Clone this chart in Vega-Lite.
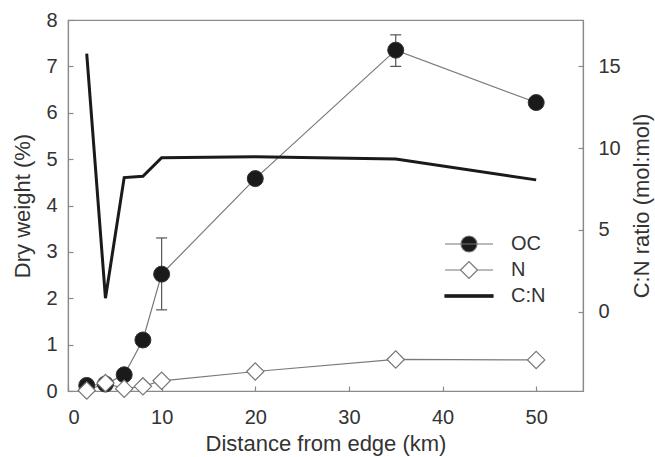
{
  "$schema": "https://vega.github.io/schema/vega-lite/v6.json",
  "width": 515,
  "height": 371,
  "autosize": {"type": "none"},
  "padding": {"left": 68, "top": 20, "right": 72, "bottom": 66},
  "background": "white",
  "config": {
    "view": {"stroke": "#8a8a8a", "strokeWidth": 1.2},
    "axis": {
      "domainColor": "#8a8a8a", "domainWidth": 1.2, "tickColor": "#8a8a8a", "tickWidth": 1.2, "tickSize": -5,
      "grid": false, "labelFont": "Liberation Sans", "labelFontSize": 20, "labelColor": "#333",
      "titleFont": "Liberation Sans", "titleFontSize": 22, "titleFontWeight": "normal", "titleColor": "#333"
    },
    "legend": {"labelFont": "Liberation Sans", "labelFontSize": 20, "labelColor": "#333"}
  },
  "data": {"values": [
    {"x": 2, "series": "OC", "value": 0.12},
    {"x": 4, "series": "OC", "value": 0.15},
    {"x": 6, "series": "OC", "value": 0.35},
    {"x": 8, "series": "OC", "value": 1.1},
    {"x": 10, "series": "OC", "value": 2.52, "lo": 1.75, "hi": 3.3},
    {"x": 20, "series": "OC", "value": 4.58},
    {"x": 35, "series": "OC", "value": 7.35, "lo": 7.0, "hi": 7.68},
    {"x": 50, "series": "OC", "value": 6.22},
    {"x": 2, "series": "N", "value": 0.01},
    {"x": 4, "series": "N", "value": 0.17},
    {"x": 6, "series": "N", "value": 0.05},
    {"x": 8, "series": "N", "value": 0.1},
    {"x": 10, "series": "N", "value": 0.22},
    {"x": 20, "series": "N", "value": 0.42},
    {"x": 35, "series": "N", "value": 0.68},
    {"x": 50, "series": "N", "value": 0.67},
    {"x": 2, "series": "C:N", "value": 15.77},
    {"x": 4, "series": "C:N", "value": 0.83},
    {"x": 6, "series": "C:N", "value": 8.2},
    {"x": 8, "series": "C:N", "value": 8.28},
    {"x": 10, "series": "C:N", "value": 9.42},
    {"x": 20, "series": "C:N", "value": 9.47},
    {"x": 35, "series": "C:N", "value": 9.33},
    {"x": 50, "series": "C:N", "value": 8.06}
  ]},
  "layer": [
    {
      "layer": [
        {
          "transform": [{"filter": "datum.series === 'OC'"}],
          "mark": {"type": "line", "color": "#7a7a7a", "strokeWidth": 1.2},
          "encoding": {
            "x": {"field": "x", "type": "quantitative", "scale": {"domain": [0, 55], "nice": false},
                  "axis": {"values": [0, 10, 20, 30, 40, 50], "title": "Distance from edge (km)", "labelPadding": 21, "titlePadding": 6}},
            "y": {"field": "value", "type": "quantitative", "scale": {"domain": [0, 8], "nice": false},
                  "axis": {"orient": "left", "values": [0, 1, 2, 3, 4, 5, 6, 7, 8], "title": "Dry weight (%)", "labelPadding": 16, "titlePadding": 11}}
          }
        },
        {
          "transform": [{"filter": "datum.series === 'N'"}],
          "mark": {"type": "line", "color": "#7a7a7a", "strokeWidth": 1.2},
          "encoding": {
            "x": {"field": "x", "type": "quantitative"},
            "y": {"field": "value", "type": "quantitative"}
          }
        },
        {
          "transform": [{"filter": "datum.series === 'OC' && isValid(datum.lo)"}],
          "mark": {"type": "rule", "color": "#555", "strokeWidth": 1.2},
          "encoding": {
            "x": {"field": "x", "type": "quantitative"},
            "y": {"field": "lo", "type": "quantitative"},
            "y2": {"field": "hi"}
          }
        },
        {
          "transform": [{"filter": "datum.series === 'OC' && isValid(datum.lo)"}],
          "mark": {"type": "tick", "orient": "horizontal", "color": "#555", "size": 11, "thickness": 1.2, "opacity": 1},
          "encoding": {
            "x": {"field": "x", "type": "quantitative"},
            "y": {"field": "lo", "type": "quantitative"}
          }
        },
        {
          "transform": [{"filter": "datum.series === 'OC' && isValid(datum.hi)"}],
          "mark": {"type": "tick", "orient": "horizontal", "color": "#555", "size": 11, "thickness": 1.2, "opacity": 1},
          "encoding": {
            "x": {"field": "x", "type": "quantitative"},
            "y": {"field": "hi", "type": "quantitative"}
          }
        },
        {
          "transform": [{"filter": "datum.series === 'OC'"}],
          "mark": {"type": "point", "shape": "circle", "size": 256, "filled": true, "fill": "#1a1a1a", "stroke": "#333", "strokeWidth": 1, "opacity": 1},
          "encoding": {
            "x": {"field": "x", "type": "quantitative"},
            "y": {"field": "value", "type": "quantitative"}
          }
        },
        {
          "transform": [{"filter": "datum.series === 'N'"}],
          "mark": {"type": "point", "shape": "diamond", "size": 300, "filled": true, "fill": "white", "stroke": "#777", "strokeWidth": 1.2, "opacity": 1},
          "encoding": {
            "x": {"field": "x", "type": "quantitative"},
            "y": {"field": "value", "type": "quantitative"}
          }
        },
        {
          "mark": {"type": "point", "opacity": 0, "filled": true},
          "encoding": {
            "shape": {"field": "series", "type": "nominal",
              "scale": {"domain": ["OC", "N", "C:N"], "range": [
                "M-2.4,0H2.4M-0.8,0A0.8,0.8,0,1,1,0.8,0A0.8,0.8,0,1,1,-0.8,0Z",
                "M-2.4,0H-0.85M0.85,0H2.4M-0.85,0L0,-0.85L0.85,0L0,0.85Z",
                "M-2.4,-0.12H2.4V0.12H-2.4Z"
              ]},
              "legend": {"title": null, "orient": "none", "legendX": 390, "legendY": 213, "symbolSize": 400, "symbolOpacity": 1, "symbolStrokeWidth": 1.2, "labelOffset": 31, "rowPadding": 4, "padding": 0}},
            "fill": {"field": "series", "type": "nominal", "scale": {"domain": ["OC", "N", "C:N"], "range": ["#1a1a1a", "white", "#1a1a1a"]}},
            "stroke": {"field": "series", "type": "nominal", "scale": {"domain": ["OC", "N", "C:N"], "range": ["#777", "#777", "#1a1a1a"]}}
          }
        }
      ]
    },
    {
      "transform": [{"filter": "datum.series === 'C:N'"}],
      "mark": {"type": "line", "color": "#1a1a1a", "strokeWidth": 3, "strokeJoin": "miter"},
      "encoding": {
        "x": {"field": "x", "type": "quantitative"},
        "y": {"field": "value", "type": "quantitative", "scale": {"domain": [-4.84, 17.83], "nice": false, "zero": false},
              "axis": {"orient": "right", "values": [0, 5, 10, 15], "title": "C:N ratio (mol:mol)", "titleAngle": 270, "labelPadding": 20, "titlePadding": 33}}
      }
    }
  ],
  "resolve": {"scale": {"y": "independent"}}
}
